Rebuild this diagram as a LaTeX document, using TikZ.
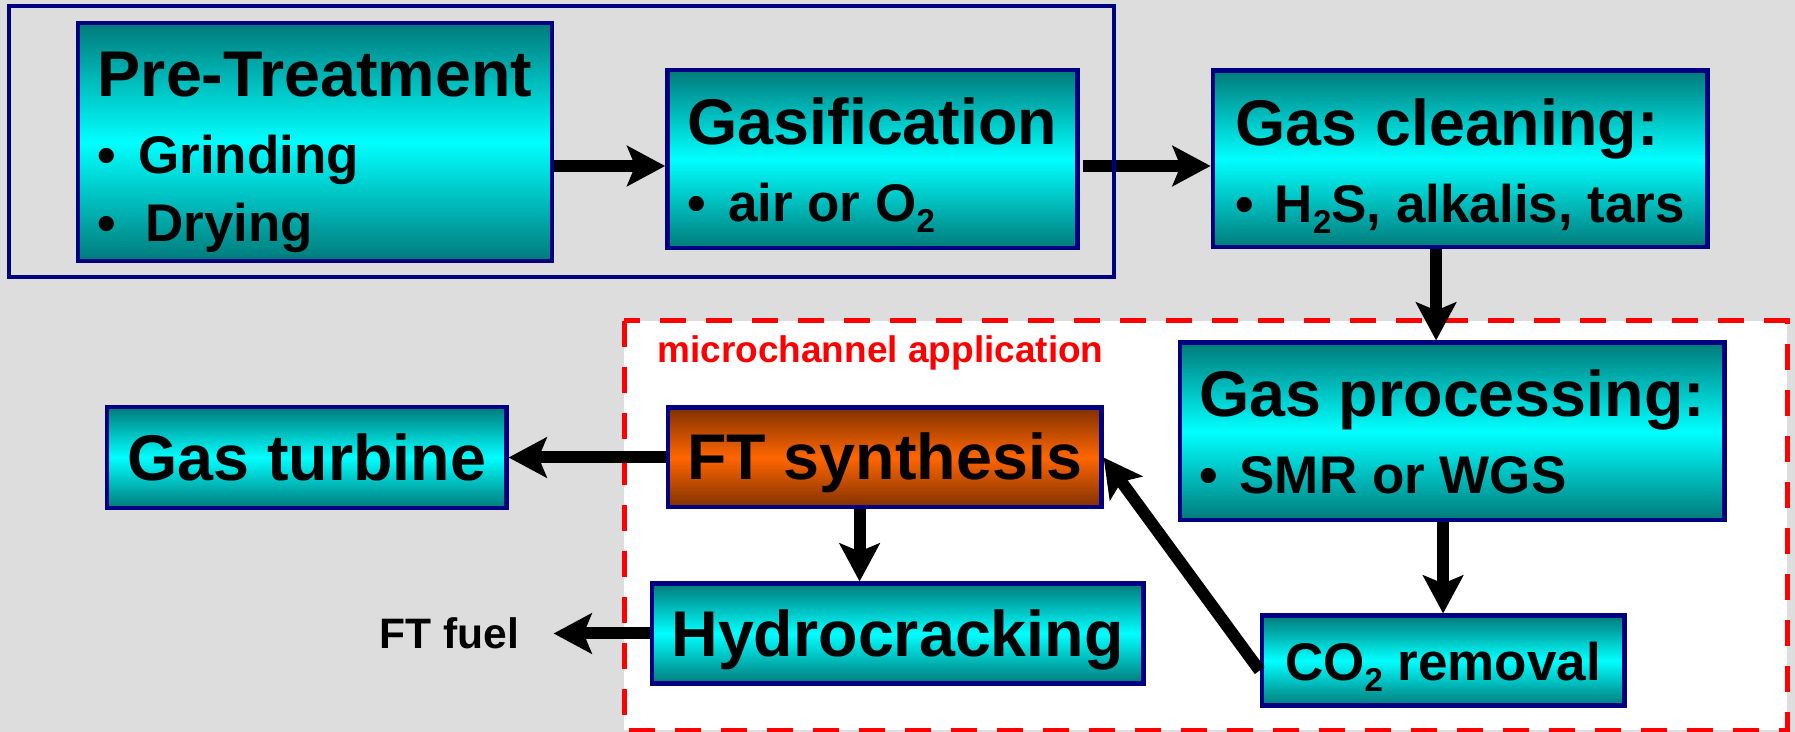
\documentclass[tikz,border=0pt]{standalone}
\usepackage{fontspec}
\setmainfont{Liberation Sans}
\usepackage{xcolor}
\usepackage{tikz}
\usetikzlibrary{arrows.meta,positioning,calc}

\definecolor{bggray}{RGB}{221,221,221}
\definecolor{boxteal}{RGB}{0,122,122}
\definecolor{boxcyan}{RGB}{0,255,255}
\definecolor{ftbrown}{RGB}{128,48,0}
\definecolor{ftorange}{RGB}{255,102,0}
\definecolor{linenavy}{RGB}{0,0,128}
\definecolor{dashred}{RGB}{255,0,0}

\newcommand{\ttlfont}{\fontsize{32.3}{34}\selectfont}
\newcommand{\itmfont}{\fontsize{26.5}{34}\selectfont}
\newcommand{\tstrut}[1]{\rule{0pt}{#1}}
\newcommand{\bstrut}{\rule[-6pt]{0pt}{6pt}}
\newcommand{\sbs}[1]{\raisebox{-5.5pt}{\fontsize{16.5}{17}\selectfont #1}}

\begin{document}
\begin{tikzpicture}[
  x=0.5pt, y=-0.5pt,
  box/.style={rectangle, draw=linenavy, line width=2.2pt, inner sep=0pt, align=left,
    top color=boxteal, bottom color=boxteal, middle color=boxcyan, font=\bfseries\itmfont},
  ftbox/.style={box, top color=ftbrown, bottom color=ftbrown, middle color=ftorange},
  arrow/.style={-{Stealth[length=19pt, width=20pt, inset=4pt]}, line width=6pt},
  frame/.style={draw=linenavy, line width=2.2pt},
  zone/.style={draw=dashred, fill=white, line width=2.5pt, dash pattern=on 13pt off 10pt},
  mclabel/.style={text=dashred, font=\bfseries\fontsize{18.5}{20}\selectfont, inner sep=0pt},
  outlabel/.style={font=\bfseries\fontsize{21.3}{24}\selectfont, inner sep=0pt}
]
  \useasboundingbox (0,0) rectangle (1795,732);
  \fill[bggray] (0,0) rectangle (1795,732);

  % microchannel part
  \draw[zone] (624,321) rectangle (1787,730);
  \node[mclabel, anchor=base west] (mctext) at (657,363) {microchannel application};

  \node[box, minimum width=237pt, minimum height=119pt] (pre) at (315,142)
    {\tstrut{33pt}{\ttlfont Pre-Treatment}\\[4.5pt] •\hspace{11pt}Grinding\\ •\hspace{14.5pt}Drying\bstrut};
  \node[box, minimum width=205pt, minimum height=89pt, right=55.5pt of pre, yshift=-8.5pt] (gasif)
    {\tstrut{30.5pt}{\ttlfont Gasification}\\[4.5pt] •\hspace{11pt}air or O\sbs{2}\bstrut};
  \node[box, minimum width=247.3pt, minimum height=88.3pt, right=65.5pt of gasif] (clean)
    {\tstrut{31pt}{\ttlfont Gas cleaning:}\\[4.5pt] •\hspace{10.5pt}H\sbs{2}S, alkalis, tars\bstrut};
  \node[box, minimum width=272.3pt, minimum height=88.8pt, below=45.5pt of clean, xshift=-4pt] (proc)
    {\tstrut{30pt}{\ttlfont Gas processing:}\\[4.5pt] •\hspace{11pt}SMR or WGS\bstrut};
  \node[box, minimum width=181.3pt, minimum height=44.8pt, below=45.5pt of proc, xshift=-4.5pt] (co2)
    {\tstrut{26pt}CO\sbs{2} removal\bstrut};
  \node[ftbox, minimum width=216.8pt, minimum height=49.8pt, left=37pt of proc, yshift=-13pt] (ft)
    {\tstrut{29pt}\ttlfont FT synthesis\bstrut};
  \node[box, minimum width=245.8pt, minimum height=49.8pt, below=36pt of ft, xshift=6.5pt] (hydro)
    {\tstrut{30pt}\ttlfont Hydrocracking\bstrut};
  \node[box, minimum width=199.8pt, minimum height=50.3pt, left=78.5pt of ft] (turb)
    {\tstrut{29.5pt}\ttlfont Gas turbine\bstrut};
  \node[outlabel, left=65pt of hydro] (fuel) {FT fuel};

  \draw[arrow] ($(pre.east |- gasif.west)+(0,7)$) -- ($(gasif.west)+(0,7)$);
  \draw[arrow] ($(gasif.east)+(3,7)$) -- ($(clean.west |- gasif.east)+(0,7)$);
  \draw[arrow] ($(clean.south)+(-24,0)$) -- ($(proc.north -| clean.south)+(-24,0)$);
  \draw[arrow] (co2.north |- proc.south) -- (co2.north);
  \draw[arrow] (ft.west) -- (turb.east);
  \draw[arrow] ($(ft.south)+(-25,0)$) -- ($(hydro.north -| ft.south)+(-25,0)$);
  \draw[arrow] ($(co2.west)+(0,10)$) -- (ft.east);
  \draw[arrow, shorten >=17pt] (hydro.west) -- (fuel.east);

  % first stage frame
  \draw[frame] (9,6) rectangle (1114,277);
\end{tikzpicture}
\end{document}
